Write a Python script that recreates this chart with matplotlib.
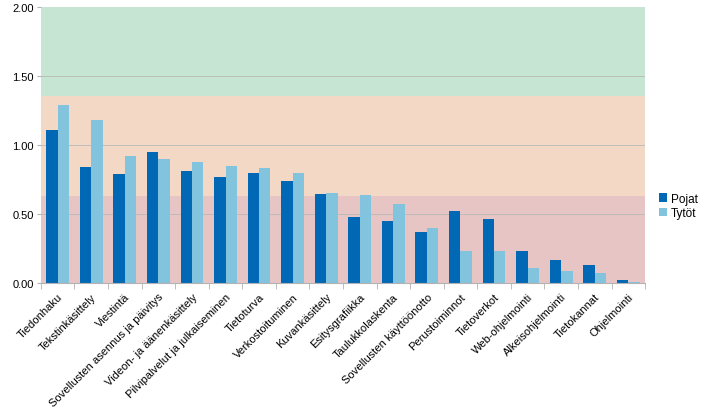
import numpy as np
import matplotlib.pyplot as plt
from matplotlib.ticker import FixedLocator, FormatStrFormatter

plt.rcParams['font.family'] = ['Liberation Sans', 'DejaVu Sans']

categories = [
    "Tiedonhaku", "Tekstinkäsittely", "Viestintä", "Sovellusten asennus ja päivitys",
    "Videon- ja äänenkäsittely", "Pilvipalvelut ja julkaiseminen", "Tietoturva",
    "Verkostoituminen", "Kuvankäsittely", "Esitysgrafiikka", "Taulukkolaskenta",
    "Sovellusten käyttöönotto", "Perustoiminnot", "Tietoverkot", "Web-ohjelmointi",
    "Alkeisohjelmointi", "Tietokannat", "Ohjelmointi",
]
pojat = [1.11, 0.84, 0.79, 0.95, 0.81, 0.77, 0.80, 0.74, 0.645, 0.48, 0.45, 0.37,
         0.52, 0.46, 0.23, 0.17, 0.13, 0.02]
tytot = [1.29, 1.18, 0.92, 0.90, 0.88, 0.85, 0.83, 0.80, 0.65, 0.635, 0.57, 0.40,
         0.23, 0.23, 0.11, 0.09, 0.07, 0.01]

# background levels
band_edges = [0, 0.63, 1.355, 2.0]
band_colors = ["#e7c5c5", "#f2d8c5", "#c6e5d2"]

fig = plt.figure(figsize=(7.05, 4.14), dpi=100)
ax = fig.add_axes([0.058, 0.314, 0.857, 0.667])

n = len(categories)
x = np.arange(n)
w = 0.34

for i in range(3):
    ax.axhspan(band_edges[i], band_edges[i + 1], color=band_colors[i], zorder=0, lw=0)

for yv in [0.5, 1.0, 1.5]:
    ax.axhline(yv, color="#b8b8b8", lw=0.6, zorder=1)

ax.bar(x - w / 2, pojat, w, color="#0068b5", label="Pojat", zorder=2)
ax.bar(x + w / 2, tytot, w, color="#82c3de", label="Tytöt", zorder=2)

ax.set_xlim(-0.5, n - 0.5)
ax.set_ylim(0, 2.0)
ax.set_yticks([0, 0.5, 1.0, 1.5, 2.0])
ax.yaxis.set_major_formatter(FormatStrFormatter("%.2f"))
ax.tick_params(axis="y", labelsize=8, length=3, color="#b3b3b3", pad=2)

ax.set_xticks(x)
ax.set_xticklabels(categories, rotation=45, ha="right", rotation_mode="anchor", fontsize=8)
ax.tick_params(axis="x", length=0, pad=6)
ax.xaxis.set_minor_locator(FixedLocator(np.arange(-0.5, n, 1)))
ax.tick_params(axis="x", which="minor", length=4, color="#b3b3b3")

for s in ["top", "right", "left"]:
    ax.spines[s].set_visible(False)
ax.spines["bottom"].set_color("#b3b3b3")

ax.legend(loc="center left", bbox_to_anchor=(1.005, 0.28), frameon=False, fontsize=8.5,
          handlelength=0.7, handleheight=0.7, handletextpad=0.3, labelspacing=0.2)

fig.savefig("out.png", dpi=100)
